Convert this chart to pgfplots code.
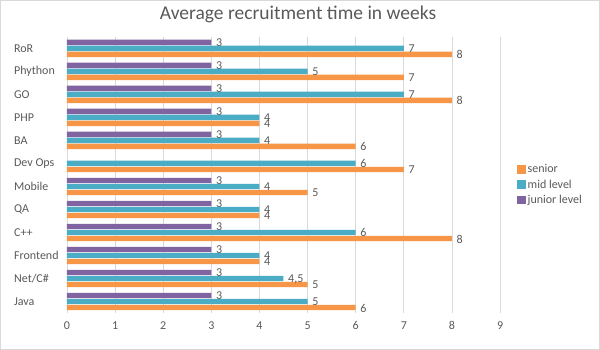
\documentclass[border=0pt]{standalone}
\usepackage{pgfplots}
\pgfplotsset{compat=1.18}
\usepackage{fontspec}
\setmainfont{Carlito}
\definecolor{cSen}{HTML}{F79646}
\definecolor{cMid}{HTML}{4BACC6}
\definecolor{cJun}{HTML}{8064A2}
\definecolor{txt}{HTML}{595959}
\definecolor{gridc}{HTML}{D9D9D9}
\begin{document}
\begin{tikzpicture}[x=1pt,y=1pt]
\draw[gridc, line width=0.8pt] (0.5,0.5) rectangle (599.5,349.5);
\node[text=txt, font=\fontsize{19.5}{22}\selectfont] at (298,335) {Average recruitment time in weeks};
\begin{axis}[
  at={(67pt,37pt)}, anchor=south west, scale only axis,
  width=433pt, height=276pt,
  xbar=0.6pt, bar width=5.4pt,
  xmin=0, xmax=9, ymin=-0.5, ymax=11.5,
  xtick={0,...,9}, ytick={0,...,11},
  yticklabels={Java,Net/C\#,Frontend,C++,QA,Mobile,Dev Ops,BA,PHP,GO,Phython,RoR},
  /pgf/number format/assume math mode=true,
  /pgf/number format/use comma,
  axis line style={draw=none}, major tick length=0pt,
  xmajorgrids, grid style={gridc, line width=0.8pt},
  ticklabel style={text=txt},
  xticklabel style={font=\fontsize{12}{13}\selectfont, yshift=-5pt},
  yticklabel style={font=\fontsize{12}{13}\selectfont, anchor=west, inner sep=0pt, xshift=-53pt},
  nodes near coords,
  nodes near coords style={font=\fontsize{12}{13}\selectfont, text=txt, anchor=west, inner sep=0pt, xshift=4.5pt, yshift=-0.5pt},
  legend style={draw=none, at={(1.039,0.545)}, anchor=north west, inner sep=0pt,
    font=\fontsize{12}{13}\selectfont, text=txt, row sep=1.5pt, cells={anchor=west}},
  legend image code/.code={\fill[#1] (0pt,-4pt) rectangle (8.5pt,4.5pt);},
]
\addplot[fill=cSen, draw=none] coordinates {(6,0) (5,1) (4,2) (8,3) (4,4) (5,5) (7,6) (6,7) (4,8) (8,9) (7,10) (8,11)};
\addplot[fill=cMid, draw=none] coordinates {(5,0) (4.5,1) (4,2) (6,3) (4,4) (4,5) (6,6) (4,7) (4,8) (7,9) (5,10) (7,11)};
\addplot[fill=cJun, draw=none] coordinates {(3,0) (3,1) (3,2) (3,3) (3,4) (3,5) (3,7) (3,8) (3,9) (3,10) (3,11)};
\legend{senior, mid level, junior level}
\end{axis}
\end{tikzpicture}
\end{document}
